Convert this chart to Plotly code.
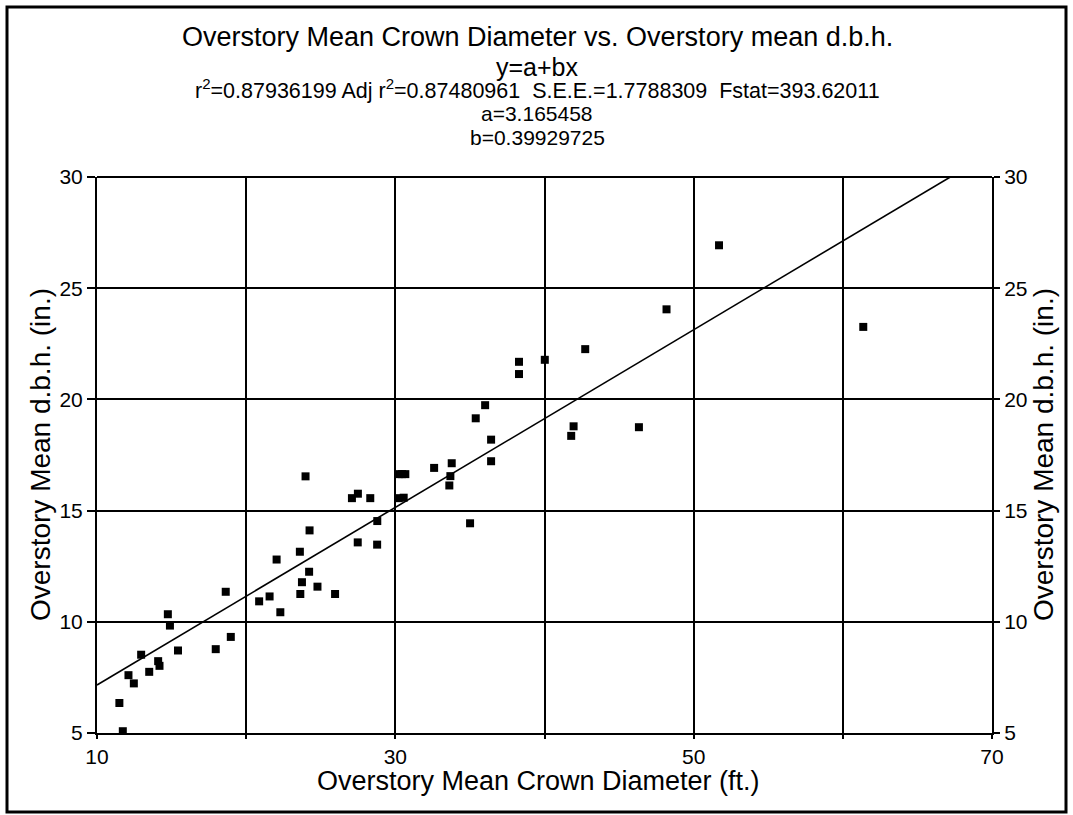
import plotly.graph_objects as go

# Data
crown_diameter = [11.5, 11.73, 12.11, 12.47, 12.96, 13.5, 14.1, 14.19, 14.75, 14.89,
                  15.43, 17.96, 18.63, 18.97, 20.87, 21.57, 22.04, 22.29, 23.6, 23.63,
                  23.74, 24.22, 24.78, 25.96, 27.48, 28.78, 23.98, 24.25, 27.09, 27.49,
                  28.32, 28.79, 30.22, 30.67, 30.22, 30.56, 32.6, 33.78, 33.69, 33.62,
                  35.39, 36.02, 36.42, 36.42, 35.01, 41.95, 41.79, 51.7, 48.18, 61.37,
                  42.73, 40.02, 38.29, 38.29, 46.33, 30.45]
dbh = [6.35, 5.08, 7.6, 7.23, 8.52, 7.75, 8.23, 8.02, 10.34, 9.83,
       8.71, 8.77, 11.35, 9.32, 10.92, 11.14, 12.8, 10.43, 13.15, 11.25,
       11.78, 12.25, 11.58, 11.25, 13.57, 13.47, 16.54, 14.11, 15.56, 15.76,
       15.56, 14.53, 16.64, 16.64, 15.56, 15.58, 16.92, 17.13, 16.55, 16.13,
       19.15, 19.74, 18.19, 17.22, 14.43, 18.79, 18.36, 26.93, 24.05, 23.26,
       22.26, 21.78, 21.69, 21.14, 18.75, 16.64]

a = 3.165458
b = 0.39929725
x_range = [10, 70]
y_range = [5, 30]
x_ticks = [10, 20, 30, 40, 50, 60, 70]
x_ticklabels = ["10", "", "30", "", "50", "", "70"]
y_ticks = [5, 10, 15, 20, 25, 30]

x_title = "Overstory Mean Crown Diameter (ft.)"
y_title = "Overstory Mean d.b.h. (in.)"
title_lines = [
    ("Overstory Mean Crown Diameter vs. Overstory mean d.b.h.", 27),
    ("y=a+bx", 25),
    ("r<sup>2</sup>=0.87936199 Adj r<sup>2</sup>=0.87480961\u00a0\u00a0S.E.E.=1.7788309\u00a0\u00a0Fstat=393.62011", 21.5),
    ("a=3.165458", 21),
    ("b=0.39929725", 21),
]
title_y_px = [37, 67, 89, 113, 137]

# fitted line from parameters
x_end = (y_range[1] - a) / b
line_x = [x_range[0], x_end]
line_y = [a + b * v for v in line_x]

W, H = 1073, 815
L, R, T, B = 97, 81, 177, 82
pw, ph = W - L - R, H - T - B

def px_to_paper_x(px):
    return (px - L) / pw

def py_to_paper_y(py):
    return (H - B - py) / ph

fig = go.Figure()
fig.add_trace(go.Scatter(x=line_x, y=line_y, mode="lines",
                         line=dict(color="black", width=1.6), showlegend=False,
                         hoverinfo="skip"))
fig.add_trace(go.Scatter(x=crown_diameter, y=dbh, mode="markers",
                         marker=dict(symbol="square", color="black", size=8),
                         showlegend=False))
fig.add_trace(go.Scatter(x=[x_range[0]], y=[y_range[0]], yaxis="y2", mode="markers",
                         marker=dict(opacity=0), showlegend=False, hoverinfo="skip"))

font = "Liberation Sans, Arial, sans-serif"
tickfont = dict(family=font, size=21, color="black")

fig.update_layout(
    width=W, height=H,
    paper_bgcolor="white", plot_bgcolor="white",
    margin=dict(l=L, r=R, t=T, b=B),
    font=dict(family=font, color="black"),
    xaxis=dict(range=x_range, tickvals=x_ticks, ticktext=x_ticklabels,
               showline=True, linecolor="black", linewidth=2,
               showgrid=True, gridcolor="black", gridwidth=1.8,
               ticks="outside", ticklen=4, tickcolor="black", tickwidth=1.5,
               zeroline=False, tickfont=tickfont),
    yaxis=dict(range=y_range, tickvals=y_ticks,
               showline=True, linecolor="black", linewidth=2,
               showgrid=True, gridcolor="black", gridwidth=1.8,
               ticks="outside", ticklen=8, tickcolor="black", tickwidth=1.5,
               zeroline=False, tickfont=tickfont),
    yaxis2=dict(range=y_range, tickvals=y_ticks, overlaying="y", side="right",
                showline=True, linecolor="black", linewidth=2, showgrid=False,
                ticks="outside", ticklen=6, tickcolor="black", tickwidth=1.5,
                zeroline=False, tickfont=tickfont),
)

fig.add_shape(type="line", xref="paper", yref="paper", x0=0, x1=1, y0=1, y1=1,
              line=dict(color="black", width=2))

for (txt, size), ypx in zip(title_lines, title_y_px):
    fig.add_annotation(text=txt, xref="paper", yref="paper",
                       x=px_to_paper_x(537), y=py_to_paper_y(ypx),
                       showarrow=False, xanchor="center", yanchor="middle",
                       font=dict(family=font, size=size, color="black"))

# axis titles
fig.add_annotation(text=x_title, xref="paper", yref="paper",
                   x=px_to_paper_x(538), y=py_to_paper_y(781),
                   showarrow=False, xanchor="center", yanchor="middle",
                   font=dict(family=font, size=27, color="black"))
fig.add_annotation(text=y_title, xref="paper", yref="paper", textangle=-90,
                   x=px_to_paper_x(40), y=0.5,
                   showarrow=False, xanchor="center", yanchor="middle",
                   font=dict(family=font, size=28, color="black"))
fig.add_annotation(text=y_title, xref="paper", yref="paper", textangle=-90,
                   x=px_to_paper_x(1043), y=0.5,
                   showarrow=False, xanchor="center", yanchor="middle",
                   font=dict(family=font, size=28, color="black"))

fig.add_shape(type="rect", xref="paper", yref="paper",
              x0=px_to_paper_x(7), x1=px_to_paper_x(1066),
              y0=py_to_paper_y(812), y1=py_to_paper_y(7),
              line=dict(color="black", width=3), fillcolor="rgba(0,0,0,0)")

fig.write_html("out.html", config={"displayModeBar": False},
               post_script="document.body.style.margin='0';document.body.style.overflow='hidden';")
